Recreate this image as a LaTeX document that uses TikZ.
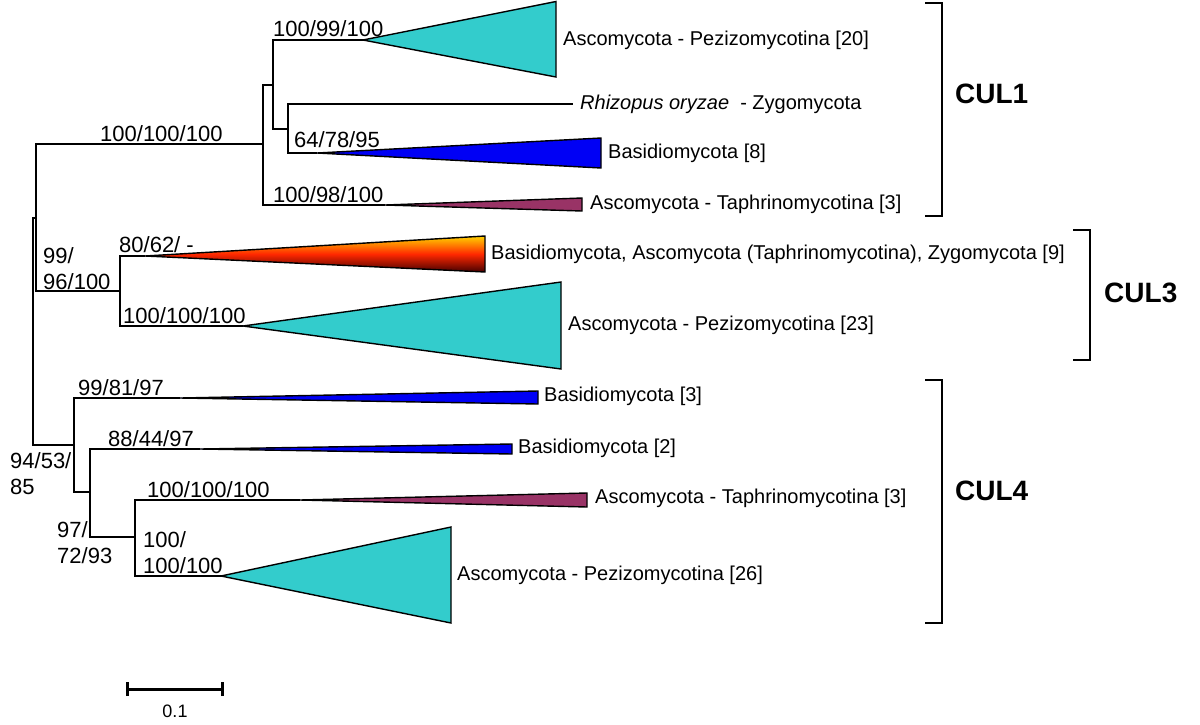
\documentclass[tikz,border=0pt]{standalone}
\usepackage{fontspec}
\setmainfont{Liberation Sans}
\definecolor{cyanc}{RGB}{51,204,204}
\definecolor{bluec}{RGB}{0,0,245}
\definecolor{maroonc}{RGB}{153,51,102}
\definecolor{gtop}{RGB}{255,210,0}
\definecolor{gmid}{RGB}{255,40,0}
\definecolor{gbot}{RGB}{70,0,0}
\begin{document}
\begin{tikzpicture}[x=1pt,y=-1pt,
  branch/.style={line width=1.6pt, line join=miter},
  clade/.style={draw=black, line width=1.4pt, line join=miter},
  taxon/.style={anchor=west, inner sep=0pt, font=\fontsize{20}{24}\selectfont},
  boot/.style={anchor=base west, inner sep=0pt, font=\fontsize{22}{26}\selectfont},
  grouplbl/.style={anchor=west, inner sep=0pt, font=\fontsize{28}{32}\selectfont\bfseries},
  bracket/.style={line width=1.8pt, line join=miter}
]
\useasboundingbox (0,0) rectangle (1200,724);

% internal nodes
\coordinate (Rt) at (33,331);
\coordinate (A)  at (36,218);
\coordinate (C1) at (263,144);
\coordinate (B1) at (273,85);
\coordinate (B2) at (288,129);
\coordinate (C3) at (120,291);
\coordinate (D4) at (74,445);
\coordinate (E)  at (90,492);
\coordinate (F)  at (135,537);
% leaves / clade tips
\coordinate (P20) at (363,40);
\coordinate (Rz)  at (573,104);
\coordinate (B8)  at (317,153);
\coordinate (T1)  at (385,205);
\coordinate (G9)  at (145,256);
\coordinate (P23) at (243,326);
\coordinate (B3)  at (180,398);
\coordinate (B2t) at (200,449);
\coordinate (T3)  at (300,500);
\coordinate (P26) at (221,576);

% branches
\draw[branch] (Rt) |- (A);
\draw[branch] (Rt) |- (D4);
\draw[branch] (A) |- (C1);
\draw[branch] (A) |- (C3);
\draw[branch] (C1) |- (B1);
\draw[branch] (C1) |- (T1);
\draw[branch] (B1) |- (P20);
\draw[branch] (B1) |- (B2);
\draw[branch] (B2) |- (Rz);
\draw[branch] (B2) |- (B8);
\draw[branch] (C3) |- (G9);
\draw[branch] (C3) |- (P23);
\draw[branch] (D4) |- (B3);
\draw[branch] (D4) |- (E);
\draw[branch] (E) |- (B2t);
\draw[branch] (E) |- (F);
\draw[branch] (F) |- (T3);
\draw[branch] (F) |- (P26);

% collapsed clades
\path[clade, fill=cyanc] (P20) -- (556,1.5) -- (556,77) -- cycle;
\path[clade, fill=bluec] (B8) -- (601,138) -- (601,168) -- cycle;
\path[clade, fill=maroonc] (T1) -- (582,198) -- (582,211) -- cycle;
\path[clade, top color=gtop, bottom color=gbot, middle color=gmid] (G9) -- (485,236) -- (485,272) -- cycle;
\path[clade, fill=cyanc] (P23) -- (561,282) -- (561,369) -- cycle;
\path[clade, fill=bluec] (B3) -- (538,391) -- (538,404) -- cycle;
\path[clade, fill=bluec] (B2t) -- (512,444) -- (512,454) -- cycle;
\path[clade, fill=maroonc] (T3) -- (587,493) -- (587,507) -- cycle;
\path[clade, fill=cyanc] (P26) -- (451,527) -- (451,623) -- cycle;

% taxon labels
\node[taxon] (l1) at (563,40) {Ascomycota - Pezizomycotina [20]};
\node[taxon] (l2) at (580,104) {\textit{Rhizopus oryzae}\ \ - Zygomycota};
\node[taxon] (l3) at (608,153) {Basidiomycota [8]};
\node[taxon] (l4) at (590,204) {Ascomycota - Taphrinomycotina [3]};
\node[taxon] (l5) at (491,254) {Basidiomycota, Ascomycota (Taphrinomycotina), Zygomycota [9]};
\node[taxon] (l6) at (568,325) {Ascomycota - Pezizomycotina [23]};
\node[taxon] (l7) at (544,396) {Basidiomycota [3]};
\node[taxon] (l8) at (518,448) {Basidiomycota [2]};
\node[taxon] (l9) at (595,498) {Ascomycota - Taphrinomycotina [3]};
\node[taxon] (l10) at (457,575) {Ascomycota - Pezizomycotina [26]};

% support values
\node[boot] (s1) at (273,36) {100/99/100};
\node[boot] (s2) at (100,141) {100/100/100};
\node[boot] (s3) at (294,147) {64/78/95};
\node[boot] (s4) at (273,202) {100/98/100};
\node[boot] (s5) at (119,252) {80/62/ -};
\node[boot] (s6a) at (43,263) {99/};
\node[boot] (s6b) at (43,289) {96/100};
\node[boot] (s7) at (123,323) {100/100/100};
\node[boot] (s8) at (78,395) {99/81/97};
\node[boot] (s9) at (108,446) {88/44/97};
\node[boot] (s10) at (147,497) {100/100/100};
\node[boot] (s11a) at (10,468) {94/53/};
\node[boot] (s11b) at (10,494) {85};
\node[boot] (s12a) at (57,537) {97/};
\node[boot] (s12b) at (57,563) {72/93};
\node[boot] (s13a) at (143,547) {100/};
\node[boot] (s13b) at (143,573) {100/100};

% brackets
\draw[bracket] (925,3) -- (942,3) -- (942,216) -- (925,216);
\node[grouplbl] (g1) at (955,94) {CUL1};
\draw[bracket] (1073,230) -- (1090,230) -- (1090,360) -- (1073,360);
\node[grouplbl] (g3) at (1104,293) {CUL3};
\draw[bracket] (925,380) -- (942,380) -- (942,623) -- (925,623);
\node[grouplbl] (g4) at (955,491) {CUL4};

% scale bar
\coordinate (sbL) at (127,689);
\coordinate (sbR) at (222,689);
\draw[line width=3pt] (sbL) -- (sbR);
\draw[line width=3pt] ([yshift=-7pt]sbL) -- ([yshift=7pt]sbL);
\draw[line width=3pt] ([yshift=-7pt]sbR) -- ([yshift=7pt]sbR);
\node[inner sep=0pt, font=\fontsize{18}{22}\selectfont] (sbt) at (175,711) {0.1};
\end{tikzpicture}
\end{document}
